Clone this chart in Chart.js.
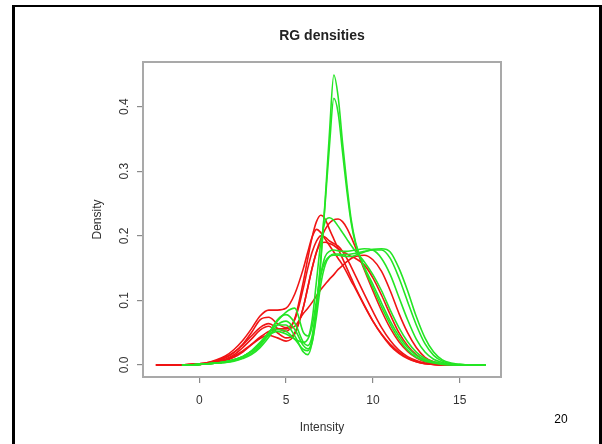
<!DOCTYPE html>
<html>
<head>
<meta charset="utf-8">
<script src="https://cdn.jsdelivr.net/npm/chart.js@4/dist/chart.umd.min.js"></script>
<style>
  html, body { margin: 0; padding: 0; background: #fff; }
  #wrap { position: relative; width: 602px; height: 444px; overflow: hidden;
          font-family: "Liberation Sans", Arial, sans-serif; }
  #frame { position: absolute; left: 12px; top: 5px; width: 590px; height: 470px;
           box-sizing: border-box; border: 3px solid #000; border-top-width: 2px; border-bottom: none; }
  #title { position: absolute; left: 222px; width: 200px; top: 27px; line-height: 16px;
           text-align: center; font-weight: bold; font-size: 14px; color: #222; }
  #page { position: absolute; left: 541px; width: 40px; top: 412px; line-height: 14px;
          text-align: center; font-size: 12px; color: #000; }
  canvas { position: absolute; left: 0; top: 0; }
</style>
</head>
<body>
<div id="wrap">
  <canvas id="c" width="602" height="444"></canvas>
  <div id="frame"></div>
  <div id="title">RG densities</div>
  <div id="page">20</div>
</div>
<script>
// Evaluation grid for the density estimates (intensity values)
const intensity = [-2.5, -2, -1.5, -1, -0.5, 0, 0.5, 1, 1.5, 2, 2.5, 3, 3.5, 4, 4.5, 5, 5.5,
  6, 6.25, 6.5, 6.75, 7, 7.25, 7.5, 7.75, 8, 8.25, 8.5, 8.75, 9,
  9.5, 10, 10.5, 11, 11.5, 12, 12.5, 13, 13.5, 14, 14.5, 15, 15.5, 16, 16.5];

// Red channel densities, one per array
const red1 = [0,0,0,0,0.001,0.002,0.004,0.007,0.012,0.02,0.031,0.045,0.058,0.064,0.057,0.052,0.072,
  0.13,0.165,0.198,0.222,0.232,0.226,0.21,0.195,0.18,0.165,0.15,0.135,0.12,
  0.093,0.068,0.047,0.03,0.018,0.01,0.005,0.002,0.001,0,0,0,null,null,null];
const red2 = [0,0,0,0,0.001,0.002,0.004,0.008,0.014,0.024,0.038,0.056,0.076,0.085,0.085,0.088,0.11,
  0.15,0.175,0.198,0.21,0.205,0.195,0.185,0.175,0.165,0.155,0.143,0.13,0.118,
  0.092,0.068,0.048,0.032,0.02,0.011,0.005,0.002,0.001,0,0,0,null,null,null];
const red3 = [0,0,0,0,0.001,0.002,0.003,0.006,0.011,0.019,0.032,0.05,0.07,0.074,0.064,0.058,0.07,
  0.12,0.15,0.175,0.192,0.2,0.198,0.192,0.188,0.184,0.176,0.165,0.152,0.138,
  0.11,0.083,0.058,0.038,0.023,0.013,0.007,0.003,0.001,0,0,0,null,null,null];
const red4 = [0,0,0,0,0,0.001,0.002,0.005,0.009,0.016,0.027,0.04,0.054,0.06,0.05,0.042,0.05,
  0.09,0.12,0.15,0.175,0.195,0.21,0.22,0.225,0.226,0.222,0.212,0.198,0.182,
  0.148,0.115,0.084,0.057,0.036,0.021,0.011,0.005,0.002,0.001,0,0,null,null,null];
const red5 = [0,0,0,0,0,0.001,0.002,0.004,0.007,0.012,0.02,0.031,0.041,0.046,0.042,0.037,0.048,
  0.09,0.12,0.15,0.175,0.188,0.19,0.188,0.185,0.18,0.176,0.172,0.168,0.165,
  0.155,0.135,0.108,0.078,0.05,0.03,0.016,0.007,0.003,0.001,0,0,null,null,null];
const red6 = [0,0,0,0,0,0.001,0.002,0.004,0.008,0.014,0.022,0.032,0.043,0.052,0.056,0.056,0.06,
  0.08,0.088,0.097,0.107,0.117,0.125,0.133,0.14,0.148,0.154,0.16,0.165,0.168,
  0.17,0.163,0.145,0.115,0.08,0.05,0.027,0.012,0.005,0.002,0.001,0,null,null,null];

// Green channel densities, one per array
const green1 = [null,null,null,0,0,0.001,0.002,0.003,0.005,0.008,0.013,0.022,0.035,0.05,0.062,0.062,0.045,
  0.02,0.016,0.035,0.085,0.16,0.255,0.36,0.449,0.415,0.345,0.28,0.225,0.19,
  0.15,0.12,0.09,0.063,0.04,0.023,0.012,0.006,0.003,0.001,0,0,0,0,0];
const green2 = [null,null,null,0,0,0.001,0.002,0.003,0.005,0.008,0.013,0.021,0.033,0.047,0.055,0.052,0.04,
  0.024,0.022,0.04,0.09,0.165,0.25,0.34,0.413,0.39,0.33,0.27,0.22,0.188,
  0.152,0.125,0.096,0.068,0.045,0.027,0.015,0.008,0.004,0.002,0.001,0,0,0,0];
const green3 = [null,null,null,0,0,0.001,0.002,0.003,0.005,0.008,0.013,0.021,0.034,0.05,0.068,0.082,0.088,
  0.05,0.045,0.07,0.13,0.19,0.222,0.228,0.224,0.215,0.205,0.195,0.185,0.176,
  0.16,0.14,0.115,0.085,0.058,0.036,0.02,0.01,0.005,0.002,0.001,0,0,0,0];
const green4 = [null,null,null,0,0,0.001,0.002,0.003,0.004,0.007,0.011,0.018,0.03,0.048,0.07,0.078,0.065,
  0.035,0.03,0.045,0.09,0.14,0.168,0.176,0.178,0.177,0.176,0.176,0.177,0.178,
  0.18,0.178,0.165,0.14,0.105,0.07,0.04,0.02,0.009,0.004,0.001,0,0,0,0];
const green5 = [null,null,null,0,0,0.001,0.002,0.003,0.004,0.006,0.01,0.016,0.027,0.043,0.062,0.068,0.055,
  0.03,0.025,0.035,0.075,0.125,0.155,0.168,0.172,0.172,0.171,0.171,0.172,0.173,
  0.176,0.178,0.178,0.165,0.135,0.098,0.062,0.033,0.015,0.006,0.002,0.001,0,0,0];
const green6 = [null,null,null,0,0,0.001,0.002,0.003,0.005,0.008,0.013,0.021,0.033,0.046,0.052,0.048,0.04,
  0.035,0.04,0.06,0.1,0.14,0.16,0.168,0.17,0.17,0.169,0.168,0.168,0.17,
  0.175,0.179,0.18,0.175,0.15,0.115,0.075,0.042,0.02,0.008,0.003,0.001,0,0,0];

// Axis tick values
const xTicks = [0, 5, 10, 15];
const yTicks = [0, 0.1, 0.2, 0.3, 0.4];

const RED = '#f01414';
const GREEN = '#24e524';

function toPoints(values) {
  const pts = [];
  values.forEach((v, i) => { if (v !== null) pts.push({ x: intensity[i], y: v }); });
  return pts;
}

function series(values, color) {
  return {
    data: toPoints(values),
    borderColor: color,
    borderWidth: 1.6,
    pointRadius: 0,
    fill: false,
    cubicInterpolationMode: 'monotone'
  };
}

// green curves first so they are painted over the red ones
const datasets = [green1, green2, green3, green4, green5, green6].map(s => series(s, GREEN))
  .concat([red1, red2, red3, red4, red5, red6].map(s => series(s, RED)));

// plot frame around the plotting region
const plotBox = {
  id: 'plotBox',
  afterDraw(chart) {
    const { ctx, chartArea: a } = chart;
    ctx.save();
    ctx.strokeStyle = '#a9a9a9';
    ctx.lineWidth = 2;
    ctx.strokeRect(a.left, a.top, a.right - a.left, a.bottom - a.top);
    ctx.restore();
  }
};

Chart.defaults.font.family = '"Liberation Sans", Arial, sans-serif';
Chart.defaults.font.size = 12;
Chart.defaults.color = '#333';

new Chart(document.getElementById('c'), {
  type: 'line',
  data: { datasets },
  plugins: [plotBox],
  options: {
    responsive: false,
    animation: false,
    devicePixelRatio: 1,
    layout: { padding: { left: 0, right: 101, top: 62, bottom: 0 } },
    plugins: { legend: { display: false }, tooltip: { enabled: false }, title: { display: false } },
    scales: {
      x: {
        type: 'linear',
        min: -3.243,
        max: 17.38,
        afterBuildTicks: s => { s.ticks = xTicks.map(v => ({ value: v })); },
        afterFit: s => { s.height = 67; },
        border: { display: false },
        grid: { drawOnChartArea: false, drawTicks: true, tickLength: 6, color: '#8a8a8a', lineWidth: 1.2 },
        ticks: { padding: 10, color: '#333', maxRotation: 0, font: { size: 12 } },
        title: { display: true, text: 'Intensity', color: '#333', font: { size: 12 }, padding: { top: 0, bottom: 9 } }
      },
      y: {
        type: 'linear',
        min: -0.01858,
        max: 0.4692,
        afterBuildTicks: s => { s.ticks = yTicks.map(v => ({ value: v })); },
        afterFit: s => { s.width = 143; },
        border: { display: false },
        grid: { drawOnChartArea: false, drawTicks: true, tickLength: 6, color: '#8a8a8a', lineWidth: 1.2 },
        ticks: {
          padding: 4,
          minRotation: 90,
          maxRotation: 90,
          crossAlign: 'center',
          color: '#333',
          font: { size: 12 },
          callback: v => Number(v).toFixed(1)
        },
        title: { display: true, text: 'Density', color: '#333', font: { size: 12 }, padding: { top: 90, bottom: 0 } }
      }
    }
  }
});
</script>
</body>
</html>
